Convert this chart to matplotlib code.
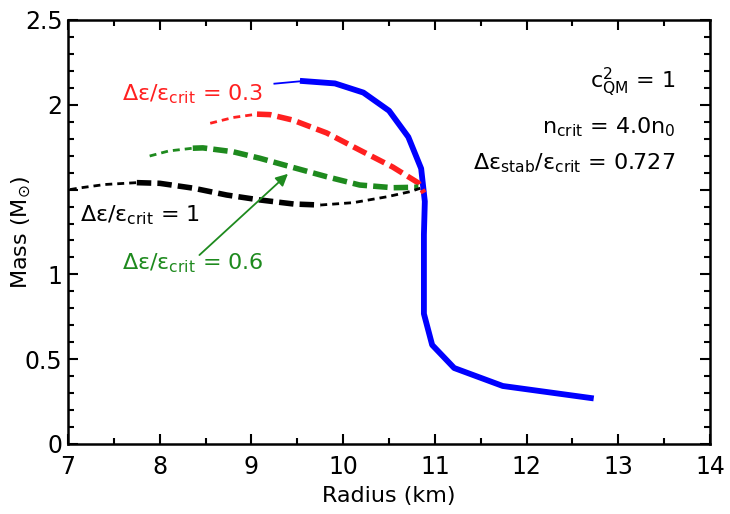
import matplotlib
matplotlib.use("Agg")
import matplotlib.pyplot as plt
from matplotlib.ticker import MultipleLocator

# courbe hadronique (bleu) : branche instable fine puis branche stable
blue_thin_r = [9.24, 9.56]
blue_thin_m = [2.124, 2.140]
blue_r = [9.56, 9.91, 10.22, 10.50, 10.71, 10.85, 10.89, 10.88, 10.88, 10.97, 11.21, 11.74, 12.70]
blue_m = [2.140, 2.126, 2.072, 1.965, 1.810, 1.624, 1.430, 1.235, 0.768, 0.584, 0.448, 0.342, 0.271]

# branches hybrides, de/ecrit = 0.3 (rouge)
red_thin_r = [8.55, 8.80, 9.06]
red_thin_m = [1.891, 1.925, 1.945]
red_r = [9.06, 9.20, 9.45, 9.82, 10.18, 10.54, 10.82, 10.88]
red_m = [1.945, 1.942, 1.910, 1.834, 1.733, 1.633, 1.539, 1.480]

# de/ecrit = 0.6 (vert)
green_thin_r = [7.89, 8.10, 8.36]
green_thin_m = [1.698, 1.728, 1.744]
green_r = [8.36, 8.47, 8.80, 9.09, 9.45, 9.82, 10.18, 10.54, 10.82]
green_m = [1.744, 1.746, 1.723, 1.685, 1.631, 1.576, 1.527, 1.511, 1.514]

# de/ecrit = 1 (noir)
black_thin1_r = [7.02, 7.13, 7.40, 7.75]
black_thin1_m = [1.500, 1.510, 1.530, 1.541]
black_r = [7.75, 8.00, 8.37, 8.73, 9.09, 9.46, 9.75]
black_m = [1.541, 1.537, 1.508, 1.468, 1.439, 1.415, 1.409]
black_thin2_r = [9.75, 10.11, 10.48, 10.73, 10.84]
black_thin2_m = [1.409, 1.423, 1.458, 1.488, 1.508]

x_ticks = [7, 8, 9, 10, 11, 12, 13, 14]
y_ticks = [0, 0.5, 1, 1.5, 2, 2.5]
y_tick_labels = ["0", "0.5", "1", "", "2", "2.5"]

plt.rcParams['font.family'] = ['DejaVu Sans']
plt.rcParams['mathtext.fontset'] = 'dejavusans'

fig = plt.figure(figsize=(7.3, 5.14), dpi=100)
ax = fig.add_axes([0.0932, 0.1362, 0.8795, 0.8249])

thick_dash = (2.6, 1.1)
thin_dash = (2.5, 1.8)

ax.plot(blue_thin_r, blue_thin_m, color='#0000ff', lw=1.3, solid_capstyle='butt')
ax.plot(blue_r, blue_m, color='#0000ff', lw=4.2, solid_joinstyle='round')

ax.plot(red_thin_r, red_thin_m, color='#ff2020', lw=2.0, dashes=thin_dash)
ax.plot(red_r, red_m, color='#ff2020', lw=4.0, dashes=thick_dash)

ax.plot(green_thin_r, green_thin_m, color='#1e8a1e', lw=2.0, dashes=thin_dash)
ax.plot(green_r, green_m, color='#1e8a1e', lw=4.0, dashes=thick_dash)

ax.plot(black_thin1_r, black_thin1_m, color='black', lw=2.0, dashes=thin_dash)
ax.plot(black_r, black_m, color='black', lw=4.0, dashes=thick_dash)
ax.plot(black_thin2_r, black_thin2_m, color='black', lw=2.0, dashes=thin_dash)

# fleche verte vers la courbe 0.6
ax.annotate('', xy=(9.42, 1.604), xytext=(8.41, 1.103),
            arrowprops=dict(arrowstyle='-|>', color='#1e8a1e', lw=1.3, mutation_scale=18))

ax.text(7.59, 2.064, 'Δε/ε$_{\\rm crit}$ = 0.3', color='#ff2020', fontsize=16, va='center', ha='left')
ax.text(7.13, 1.35, 'Δε/ε$_{\\rm crit}$ = 1', color='black', fontsize=16, va='center', ha='left')
ax.text(7.59, 1.067, 'Δε/ε$_{\\rm crit}$ = 0.6', color='#1e8a1e', fontsize=16, va='center', ha='left')

ax.text(13.62, 2.134, 'c$^{2}_{\\rm QM}$ = 1', fontsize=16, ha='right', va='center')
ax.text(13.62, 1.869, 'n$_{\\rm crit}$ = 4.0n$_{0}$', fontsize=16, ha='right', va='center')
ax.text(13.62, 1.657, 'Δε$_{\\rm stab}$/ε$_{\\rm crit}$ = 0.727', fontsize=16, ha='right', va='center')

ax.set_xlim(7, 14)
ax.set_ylim(0, 2.5)
ax.set_xticks(x_ticks)
ax.set_yticks(y_ticks)
ax.set_yticklabels(y_tick_labels)
ax.xaxis.set_minor_locator(MultipleLocator(0.5))
ax.yaxis.set_minor_locator(MultipleLocator(0.1))
ax.tick_params(which='both', direction='in', top=True, right=True, width=1.5, labelsize=17)
ax.tick_params(axis='x', pad=8)
ax.tick_params(axis='y', pad=4)
ax.tick_params(which='major', length=7)
ax.tick_params(which='minor', length=4)
for s in ax.spines.values():
    s.set_linewidth(1.8)

ax.set_xlabel('Radius (km)', fontsize=16)
ax.set_ylabel('Mass (M$_{\\odot}$)', fontsize=16)
ax.xaxis.set_label_coords(0.5, -0.098)
ax.yaxis.set_label_coords(-0.055, 0.5)

fig.savefig('out.png', dpi=100)
